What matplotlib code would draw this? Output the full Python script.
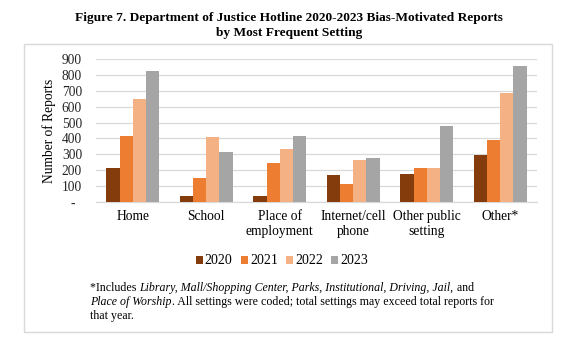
import matplotlib
matplotlib.use("Agg")
import matplotlib.pyplot as plt
import numpy as np
from matplotlib.patches import Rectangle

categories = ["Home", "School", "Place of\nemployment", "Internet/cell\nphone", "Other public\nsetting", "Other*"]
years = ["2020", "2021", "2022", "2023"]
v2020 = [211, 36, 35, 169, 179, 297]
v2021 = [415, 150, 247, 116, 213, 388]
v2022 = [649, 407, 331, 265, 217, 687]
v2023 = [824, 312, 413, 278, 478, 858]
yticks = [0, 100, 200, 300, 400, 500, 600, 700, 800, 900]
ytick_labels = ["-  ", "100", "200", "300", "400", "500", "600", "700", "800", "900"]
colors = ["#843C0C", "#ED7D31", "#F4B183", "#A5A5A5"]

plt.rcParams['font.family'] = ['Liberation Serif', 'DejaVu Serif']

W, H = 576, 351
fig = plt.figure(figsize=(W/100, H/100), dpi=100)

def fx(px): return px / W
def fy(py): return 1 - py / H

# outer box
fig.patches.append(Rectangle((fx(24), fy(332)), fx(552) - fx(24), fy(44) - fy(332),
                             transform=fig.transFigure, fill=False, edgecolor="#D9D9D9", lw=1.0))

ax = fig.add_axes([fx(96), fy(202), fx(537) - fx(96), fy(59) - fy(202)])
x = np.arange(len(categories))
bw = 0.18
series = [v2020, v2021, v2022, v2023]
for i, (vals, c, yr) in enumerate(zip(series, colors, years)):
    ax.bar(x + (i - 1.5) * bw, vals, bw, color=c, label=yr, zorder=3)

ax.set_xlim(-0.5, len(categories) - 0.5)
ax.set_ylim(0, 900)
ax.set_yticks(yticks)
ax.set_yticklabels(ytick_labels, fontsize=9.75, color="#262626")
ax.set_xticks(x)
ax.set_xticklabels(categories, fontsize=9.75, color="#000000", linespacing=1.2)
ax.tick_params(axis='y', length=0, pad=10)
ax.tick_params(axis='x', length=0, pad=6)
ax.grid(axis='y', color="#D9D9D9", lw=0.9, zorder=0)
for s in ["top", "right", "left"]:
    ax.spines[s].set_visible(False)
ax.spines["bottom"].set_color("#D9D9D9")
ax.spines["bottom"].set_linewidth(0.9)
ax.set_ylabel("Number of Reports", fontsize=9.75)
ax.yaxis.set_label_coords(fx(56), fy(131), transform=fig.transFigure)

fig.text(fx(289), fy(18), "Figure 7. Department of Justice Hotline 2020-2023 Bias-Motivated Reports",
         ha="center", va="center", fontsize=9.6, fontweight="bold")
fig.text(fx(289), fy(33), "by Most Frequent Setting",
         ha="center", va="center", fontsize=9.6, fontweight="bold")

leg = fig.legend(loc="center", bbox_to_anchor=(fx(282), fy(261)), ncol=4, frameon=False,
                 fontsize=10, handlelength=0.5, handleheight=0.5, handletextpad=0.15,
                 columnspacing=0.6, borderpad=0, borderaxespad=0)

# footnote with mixed italic
lines = [
    [("*Includes ", "normal"), ("Library, Mall/Shopping Center, Parks, Institutional, Driving, Jail,", "italic"), (" and", "normal")],
    [("Place of Worship", "italic"), (". All settings were coded; total settings may exceed total reports for", "normal")],
    [("that year.", "normal")],
]
fig.canvas.draw()
renderer = fig.canvas.get_renderer()
y0 = 288
for li, parts in enumerate(lines):
    xpos = 90
    for txt, style in parts:
        t = fig.text(fx(xpos), fy(y0 + li * 14), txt, ha="left", va="center", fontsize=8.6, style=style)
        bb = t.get_window_extent(renderer=renderer)
        xpos += bb.width
fig.savefig("out.png", dpi=100)
